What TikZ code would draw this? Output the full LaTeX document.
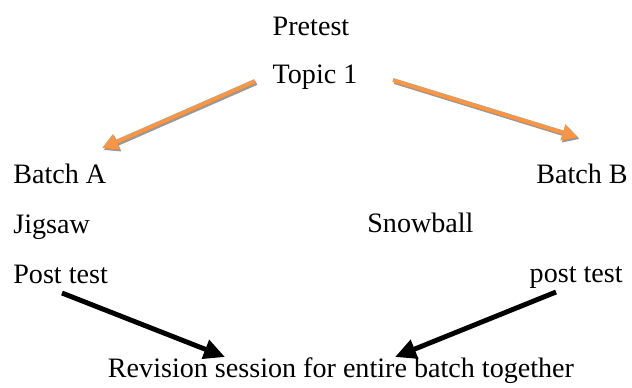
\documentclass[tikz,border=0pt]{standalone}
\usepackage{fontspec}
\setmainfont{Liberation Serif}
\usetikzlibrary{arrows.meta}
\definecolor{accentorange}{RGB}{247,150,70}

\begin{document}
\begin{tikzpicture}[x=0.02cm, y=-0.02cm, font=\fontsize{16}{19}\selectfont, every node/.style={inner sep=0pt}]
    \useasboundingbox (0,0) rectangle (632,387);
    \node[anchor=base] (pretest) at (311,35) {Pretest};
    \node[anchor=base] (topic) at (315,83) {Topic 1};
    \node[anchor=base west] (batchA) at (13,183) {Batch A};
    \node[anchor=base east] (batchB) at (628,183) {Batch B};
    \node[anchor=base west] (jigsaw) at (13,233) {Jigsaw};
    \node[anchor=base west] (snowball) at (367,232) {Snowball};
    \node[anchor=base west] (postA) at (13,283) {Post test};
    \node[anchor=base east] (postB) at (623,282) {post test};
    \node[anchor=base] (revision) at (341,377) {Revision session for entire batch together};
    \coordinate (oa1) at (255,81);  \coordinate (oa2) at (102,148);
    \coordinate (ob1) at (393,80);  \coordinate (ob2) at (578,137);
    \coordinate (ba1) at (62,293);  \coordinate (ba2) at (225,357);
    \coordinate (bb1) at (556,292); \coordinate (bb2) at (395,357);
    \draw[black!40, line width=2.3pt, -{Triangle[length=9pt,width=9pt]}] ([shift={(1.5,2)}]oa1) -- ([shift={(1.5,2)}]oa2);
    \draw[black!40, line width=2.3pt, -{Triangle[length=9pt,width=9pt]}] ([shift={(1.5,2)}]ob1) -- ([shift={(1.5,2)}]ob2);
    \draw[accentorange, line width=2.3pt, -{Triangle[length=9pt,width=9pt]}] (oa1) -- (oa2);
    \draw[accentorange, line width=2.3pt, -{Triangle[length=9pt,width=9pt]}] (ob1) -- (ob2);
    \draw[line width=2.8pt, -{Triangle[length=12pt,width=11pt]}] (ba1) -- (ba2);
    \draw[line width=2.8pt, -{Triangle[length=12pt,width=11pt]}] (bb1) -- (bb2);
\end{tikzpicture}
\end{document}
